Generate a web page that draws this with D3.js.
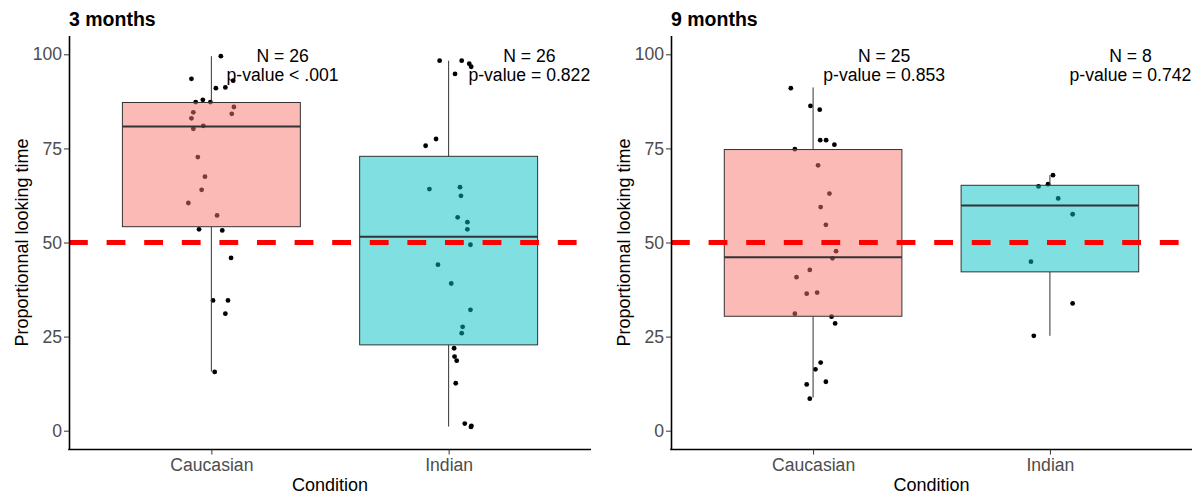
<!DOCTYPE html>
<html>
<head>
<meta charset="utf-8">
<script src="https://cdn.jsdelivr.net/npm/d3@7"></script>
<style>
  html, body { margin: 0; padding: 0; background: #fff; }
  svg { display: block; font-family: "Liberation Sans", Arial, sans-serif; }
</style>
</head>
<body>
<svg id="chart" width="1202" height="494"></svg>
<script>
// ---------- data ----------
const categories = ["Caucasian", "Indian"];
const panelTitles = ["3 months", "9 months"];
const yTicks = [0, 25, 50, 75, 100];
const chanceLevel = 50;

// 3 months
const m3CaucasianValues = [99.5, 93.5, 93.0, 91.0, 91.2, 87.3, 87.9, 87.3, 86.0, 84.6, 84.2, 83.0, 80.2, 81.0, 72.7, 67.5, 64.0, 60.5, 57.2, 53.5, 53.2, 45.9, 34.6, 34.6, 31.1, 15.6];
const m3CaucasianJitter = [0.040, -0.084, 0.092, 0.019, 0.059, -0.066, -0.036, -0.004, 0.095, -0.076, 0.086, -0.084, -0.076, -0.034, -0.057, -0.027, -0.041, -0.097, 0.024, -0.052, 0.046, 0.083, 0.007, 0.070, 0.059, 0.014];
const m3IndianValues = [98.3, 98.3, 97.5, 96.7, 94.8, 77.5, 75.7, 64.2, 64.7, 62.4, 56.7, 55.4, 53.5, 49.4, 44.1, 39.1, 32.1, 27.6, 25.9, 21.9, 19.7, 18.6, 12.6, 1.9, 1.3, 1.0];
const m3IndianJitter = [-0.038, 0.055, 0.087, 0.095, 0.027, -0.053, -0.097, -0.081, 0.048, 0.052, 0.038, 0.079, 0.079, 0.092, -0.045, 0.011, 0.092, 0.059, 0.055, 0.023, 0.025, 0.034, 0.030, 0.068, 0.096, 0.094];

// 9 months
const m9CaucasianValues = [91.0, 86.3, 85.3, 77.2, 77.2, 76.0, 74.8, 70.5, 63.0, 59.4, 54.7, 47.7, 45.8, 42.7, 40.8, 36.4, 36.7, 31.1, 30.3, 28.5, 18.1, 16.3, 12.3, 13.0, 8.5];
const m9CaucasianJitter = [-0.094, -0.011, 0.028, 0.030, 0.055, 0.090, -0.077, 0.021, 0.069, 0.032, 0.054, 0.097, 0.082, -0.014, -0.070, -0.027, 0.017, -0.077, 0.078, 0.093, 0.032, 0.010, -0.027, 0.054, -0.014];
const m9IndianValues = [67.9, 65.5, 64.9, 61.7, 57.5, 44.9, 33.8, 25.2];
const m9IndianJitter = [0.013, -0.008, -0.048, 0.035, 0.096, -0.080, 0.096, -0.068];

// box stats: [lower whisker, Q1, median, Q3, upper whisker]
const m3CaucasianBox = [15.7, 54.2, 80.8, 87.2, 99.5];
const m3IndianBox = [1.1, 22.8, 51.5, 72.9, 98.3];
const m9CaucasianBox = [8.8, 30.4, 46.1, 74.7, 91.2];
const m9IndianBox = [25.2, 42.2, 59.8, 65.2, 67.9];

// annotations
const m3Labels = ["N = 26", "p-value < .001", "N = 26", "p-value = 0.822"];
const m9Labels = ["N = 25", "p-value = 0.853", "N = 8", "p-value = 0.742"];
const labelX = [1.3, 2.34];
const labelY = 100;

const fills = ["#F8766D", "#00BFC4"];

// ---------- build ----------
const panels = [
  {
    title: panelTitles[0], left: 69, right: 591,
    groups: [
      { cat: 0, values: m3CaucasianValues, jitter: m3CaucasianJitter, box: m3CaucasianBox },
      { cat: 1, values: m3IndianValues, jitter: m3IndianJitter, box: m3IndianBox }
    ],
    labels: m3Labels
  },
  {
    title: panelTitles[1], left: 671, right: 1192,
    groups: [
      { cat: 0, values: m9CaucasianValues, jitter: m9CaucasianJitter, box: m9CaucasianBox },
      { cat: 1, values: m9IndianValues, jitter: m9IndianJitter, box: m9IndianBox }
    ],
    labels: m9Labels
  }
];

const svg = d3.select("#chart");
const panelTop = 35.5, panelBottom = 449.5;
const y = d3.scaleLinear().domain([-5, 105]).range([panelBottom, panelTop]);
const boxWidth = 0.75;

panels.forEach(p => {
  const x = d3.scaleLinear().domain([0.4, 2.6]).range([p.left, p.right]);
  const g = svg.append("g");

  // jittered points (under boxes)
  p.groups.forEach(gr => {
    g.append("g").selectAll("circle")
      .data(gr.values.map((v, i) => ({ v, j: gr.jitter[i] })))
      .join("circle")
      .attr("cx", d => x(gr.cat + 1 + d.j))
      .attr("cy", d => y(d.v))
      .attr("r", 2.4)
      .attr("fill", "#000");
  });

  // boxes
  p.groups.forEach(gr => {
    const cx = x(gr.cat + 1);
    const [lw, q1, med, q3, uw] = gr.box;
    const x0 = x(gr.cat + 1 - boxWidth / 2), x1 = x(gr.cat + 1 + boxWidth / 2);
    g.append("line").attr("x1", cx).attr("x2", cx).attr("y1", y(uw)).attr("y2", y(q3))
      .attr("stroke", "#333").attr("stroke-width", 1);
    g.append("line").attr("x1", cx).attr("x2", cx).attr("y1", y(q1)).attr("y2", y(lw))
      .attr("stroke", "#333").attr("stroke-width", 1);
    g.append("rect").attr("x", x0).attr("y", y(q3)).attr("width", x1 - x0).attr("height", y(q1) - y(q3))
      .attr("fill", fills[gr.cat]).attr("fill-opacity", 0.5)
      .attr("stroke", "#333").attr("stroke-width", 1);
    g.append("line").attr("x1", x0).attr("x2", x1).attr("y1", y(med)).attr("y2", y(med))
      .attr("stroke", "#333").attr("stroke-width", 2);
  });

  // chance line
  g.append("line")
    .attr("x1", p.left).attr("x2", p.right)
    .attr("y1", y(chanceLevel)).attr("y2", y(chanceLevel))
    .attr("stroke", "#FF0000").attr("stroke-width", 5)
    .attr("stroke-dasharray", "18.8 18.8");

  // annotations
  [0, 1].forEach(k => {
    const t = g.append("text")
      .attr("x", x(labelX[k])).attr("y", y(labelY))
      .attr("text-anchor", "middle")
      .attr("font-size", "17.6px").attr("fill", "#000");
    t.append("tspan").attr("x", x(labelX[k])).attr("dy", 8).text(p.labels[k * 2]);
    t.append("tspan").attr("x", x(labelX[k])).attr("dy", 19).text(p.labels[k * 2 + 1]);
  });

  // y axis
  const ya = g.append("g").attr("transform", `translate(${p.left},0)`)
    .call(d3.axisLeft(y).tickValues(yTicks).tickSize(5).tickSizeOuter(0).tickPadding(2));
  ya.select(".domain").attr("stroke", "#000").attr("stroke-width", 1.6);
  ya.selectAll(".tick line").attr("stroke", "#333").attr("stroke-width", 1);
  ya.selectAll(".tick text").attr("fill", "#4D4D4D").attr("font-size", "17.6px")
    .attr("font-family", "Liberation Sans, Arial, sans-serif");

  // x axis
  const xa = g.append("g").attr("transform", `translate(0,${panelBottom})`)
    .call(d3.axisBottom(x).tickValues([1, 2]).tickFormat(d => categories[d - 1]).tickSize(5).tickSizeOuter(0).tickPadding(4));
  xa.select(".domain").attr("stroke", "#000").attr("stroke-width", 1.6)
    .attr("d", `M${p.left - 0.8},0H${p.right}`);
  xa.selectAll(".tick line").attr("stroke", "#333").attr("stroke-width", 1);
  xa.selectAll(".tick text").attr("fill", "#4D4D4D").attr("font-size", "17.6px")
    .attr("font-family", "Liberation Sans, Arial, sans-serif");

  // axis titles
  g.append("text").attr("x", (p.left + p.right) / 2).attr("y", 491)
    .attr("text-anchor", "middle").attr("font-size", "18px").attr("fill", "#000")
    .text("Condition");
  g.append("text")
    .attr("transform", `translate(${p.left - 41},${(panelTop + panelBottom) / 2}) rotate(-90)`)
    .attr("text-anchor", "middle").attr("font-size", "18px").attr("fill", "#000")
    .text("Proportionnal looking time");

  // title
  g.append("text").attr("x", p.left).attr("y", 25.5)
    .attr("font-size", "19.5px").attr("font-weight", "bold").attr("fill", "#000")
    .text(p.title);
});
</script>
</body>
</html>
